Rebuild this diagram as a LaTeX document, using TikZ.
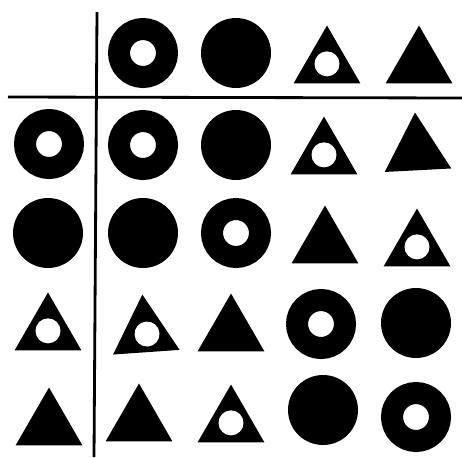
\documentclass[tikz,border=0pt]{standalone}
\usepackage{tikz}
\usetikzlibrary{shapes.geometric}
\tikzset{disc/.style={circle,fill=black,inner sep=0pt,minimum size=1.4cm},
  ring/.style={circle,draw=black,line width=0.44cm,inner sep=0pt,minimum size=0.96cm},
  tri/.style={regular polygon,regular polygon sides=3,fill=black,inner sep=0pt,
    minimum size=1.54cm},
  holetri/.style={tri,path picture={\fill[white]
    ([yshift=-0.19cm]path picture bounding box.center) circle (0.25cm);}},
  bar/.style={line width=1.6pt,draw=black}}

\begin{document}
\begin{tikzpicture}[x=0.02cm,y=-0.02cm]
\useasboundingbox (0,0) rectangle (462,457);
% table rules
\coordinate (vtop) at (97,12);
\coordinate (vbot) at (94,457);
\coordinate (hleft) at (8,97);
\coordinate (hright) at (462,98);
\draw[bar] (vtop) -- (vbot);
\draw[bar] (hleft) -- (hright);
% header row
\node[ring] (h1) at (143,53) {};
\node[disc] (h2) at (236,53) {};
\node[holetri] (h3) at (327,64) {};
\node[tri] (h4) at (419,64) {};
% header column
\node[ring] (r1) at (49,144) {};
\node[disc] (r2) at (48,233) {};
\node[holetri] (r3) at (48,331) {};
\node[tri] (r4) at (49,426) {};
% body
\node[ring] (c11) at (143,145) {};
\node[disc] (c12) at (236,145) {};
\node[holetri] (c13) at (324,155) {};
\node[tri,rotate=3] (c14) at (417,151) {};
\node[disc] (c21) at (143,233) {};
\node[ring] (c22) at (236,233) {};
\node[tri] (c23) at (325,244) {};
\node[holetri] (c24) at (417,247) {};
\node[holetri,rotate=4] (c31) at (145,333) {};
\node[tri] (c32) at (231,332) {};
\node[ring] (c33) at (321,324) {};
\node[disc] (c34) at (416,323) {};
\node[tri] (c41) at (139,422) {};
\node[holetri] (c42) at (231,423) {};
\node[disc] (c43) at (323,410) {};
\node[ring] (c44) at (416,417) {};
\end{tikzpicture}
\end{document}
